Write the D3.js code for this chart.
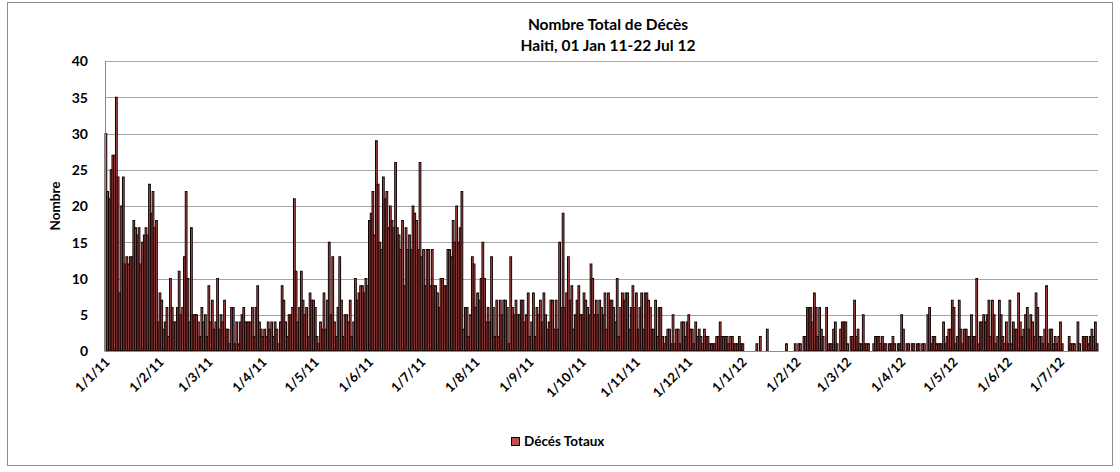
<!DOCTYPE html>
<html><head><meta charset="utf-8">
<script src="https://cdn.jsdelivr.net/npm/d3@7"></script>
<style>
body{margin:0;background:#fff;}
svg text{font-family:Lato,"Open Sans",sans-serif;font-weight:bold;fill:#000;}
</style></head>
<body><svg id="c" width="1120" height="472"></svg>
<script>
// Daily totals, one array per month
const jan11=[30,22,21,25,27,27,35,24,8,20,24,12,13,12,13,13,18,17,16,17,12,15,16,17,16,23,19,22,17,18,4];
const feb11=[8,7,3,4,6,2,10,6,4,4,6,11,5,6,13,22,10,4,17,5,5,5,4,2,6,4,5,2];
const mar11=[9,4,7,3,4,10,3,5,4,7,3,3,1,6,6,1,4,1,4,5,6,4,4,4,4,6,2,6,9,4,3];
const apr11=[2,3,2,4,3,4,2,4,3,1,4,9,7,4,2,5,5,6,21,11,4,6,11,7,5,6,2,8,7,7];
const may11=[6,2,1,4,3,8,3,7,15,5,13,4,2,6,13,7,2,5,5,4,7,2,4,10,7,8,9,9,8,10,9];
const jun11=[18,19,22,16,29,23,15,14,24,21,22,17,20,18,17,26,17,16,14,18,9,17,14,16,14,20,19,18,14,26];
const jul11=[13,14,9,14,14,9,14,9,9,8,6,10,10,9,9,14,14,13,18,15,20,15,17,22,3,6,6,2,5,13,12];
const aug11=[6,8,7,10,15,10,4,6,4,13,6,2,7,2,7,5,7,7,6,1,13,6,5,7,5,5,7,7,4,5,8];
const sep11=[2,4,8,2,6,5,7,4,8,5,3,4,7,7,3,7,3,15,6,19,6,8,13,7,9,3,5,7,9,5];
const oct11=[5,8,7,6,5,12,10,5,7,5,7,6,5,8,3,8,7,7,6,4,10,2,6,8,7,8,8,3,6,9,6];
const nov11=[8,3,6,8,3,8,8,7,6,3,3,7,2,6,6,2,1,2,3,3,1,5,1,3,3,1,4,4,2,4];
const dec11=[5,3,3,1,4,2,3,2,1,3,2,2,1,1,1,1,2,2,4,2,2,2,2,1,2,2,1,1,1,2,1];
const jan12=[1,0,0,0,0,0,0,0,1,0,2,0,0,0,3,0,0,0,0,0,0,0,0,0,0,1,0,0,0,0,1];
const feb12=[0,1,1,0,2,2,6,6,6,4,8,6,2,6,3,2,0,6,1,1,1,3,4,1,0,3,4,4,4];
const mar12=[1,0,2,2,7,2,3,1,1,5,1,1,1,0,0,1,2,2,2,1,2,1,1,0,1,1,2,1,0,1,1];
const apr12=[5,3,0,1,1,0,1,1,0,1,1,0,1,1,0,5,6,1,2,2,1,1,1,1,4,1,2,3,3,7];
const may12=[6,1,2,7,3,1,3,3,2,2,5,2,2,10,1,4,4,5,4,5,7,2,7,5,1,2,7,5,2,1,4];
const jun12=[1,7,1,4,3,3,8,4,2,3,5,6,3,5,4,2,8,6,2,2,1,3,9,1,3,3,1,2,1,2];
const jul12=[4,1,0,0,0,2,1,1,1,0,4,1,0,2,2,2,1,2,3,2,4,1];

const monthLabels=["1/1/11","1/2/11","1/3/11","1/4/11","1/5/11","1/6/11","1/7/11","1/8/11","1/9/11","1/10/11","1/11/11","1/12/11","1/1/12","1/2/12","1/3/12","1/4/12","1/5/12","1/6/12","1/7/12"];
const yTicks=[0,5,10,15,20,25,30,35,40];
const seriesName="Décés Totaux";
const title1="Nombre Total de Décès";
const title2="Haiti, 01 Jan 11-22 Jul 12";
const yTitle="Nombre";

const values=[].concat(jan11,feb11,mar11,apr11,may11,jun11,jul11,aug11,sep11,oct11,nov11,dec11,jan12,feb12,mar12,apr12,may12,jun12,jul12);
const start=new Date(2011,0,1);
const days=d3.timeDay.range(start,d3.timeDay.offset(start,values.length));
const data=days.map((d,i)=>({date:d,v:values[i]}));
const end=d3.timeDay.offset(start,values.length);

const svg=d3.select("#c");
const L=105,R=1098,T=61,B=351;
const x=d3.scaleTime().domain([start,end]).range([L,R]);
const y=d3.scaleLinear().domain([0,40]).range([B,T]);

svg.append("rect").attr("x",7.5).attr("y",2.5).attr("width",1105).attr("height",463)
  .attr("fill","#fff").attr("stroke","#8c8c8c").attr("stroke-width",1);

// grid
svg.append("g").selectAll("line").data(yTicks.filter(t=>t>0)).join("line")
  .attr("x1",L).attr("x2",R).attr("y1",d=>Math.round(y(d))+0.5).attr("y2",d=>Math.round(y(d))+0.5)
  .attr("stroke","#a6a6a6").attr("stroke-width",1.2);

// bars
svg.append("g").selectAll("rect").data(data.filter(d=>d.v>0)).join("rect")
  .attr("x",d=>x(d.date))
  .attr("width",d=>x(d3.timeDay.offset(d.date,1))-x(d.date))
  .attr("y",d=>y(d.v))
  .attr("height",d=>B-y(d.v))
  .attr("fill","#c0504d").attr("stroke","#120303").attr("stroke-width",1);

// axes lines
svg.append("line").attr("x1",L+0.5).attr("x2",L+0.5).attr("y1",T).attr("y2",B).attr("stroke","#8c8c8c");
svg.append("line").attr("x1",L).attr("x2",R).attr("y1",B+0.5).attr("y2",B+0.5).attr("stroke","#8c8c8c");

// y axis labels
const yAxis=d3.axisLeft(y).tickValues(yTicks).tickSize(0).tickPadding(0);
const gy=svg.append("g").attr("transform",`translate(${L-17},0)`).call(yAxis);
gy.select(".domain").remove();
gy.selectAll("text").attr("font-size",14).style("font-family","Lato,sans-serif").style("font-weight","bold").attr("dy","0.35em");

// x axis labels
const months=d3.timeMonth.range(start,end);
const xAxis=d3.axisBottom(x).tickValues(months).tickSize(0).tickFormat((d,i)=>monthLabels[i]);
const gx=svg.append("g").attr("transform",`translate(0,${B})`).call(xAxis);
gx.select(".domain").remove();
gx.selectAll("text").attr("font-size",13).style("font-weight","bold")
  .attr("text-anchor","end").attr("dy",0).attr("y",0)
  .attr("transform","translate(5,12) rotate(-45)");

// y title
svg.append("text").attr("transform","translate(60,206) rotate(-90)").attr("text-anchor","middle")
  .attr("font-size",13.5).text(yTitle);

// titles
svg.append("text").attr("x",608).attr("y",30).attr("text-anchor","middle").attr("font-size",15.5).text(title1);
svg.append("text").attr("x",608).attr("y",51).attr("text-anchor","middle").attr("font-size",15.5).text(title2);

// legend
svg.append("rect").attr("x",511.5).attr("y",437.5).attr("width",8).attr("height",8).attr("fill","#c0504d").attr("stroke","#000");
svg.append("text").attr("x",524).attr("y",446).attr("font-size",13.5).text(seriesName);
</script></body></html>
